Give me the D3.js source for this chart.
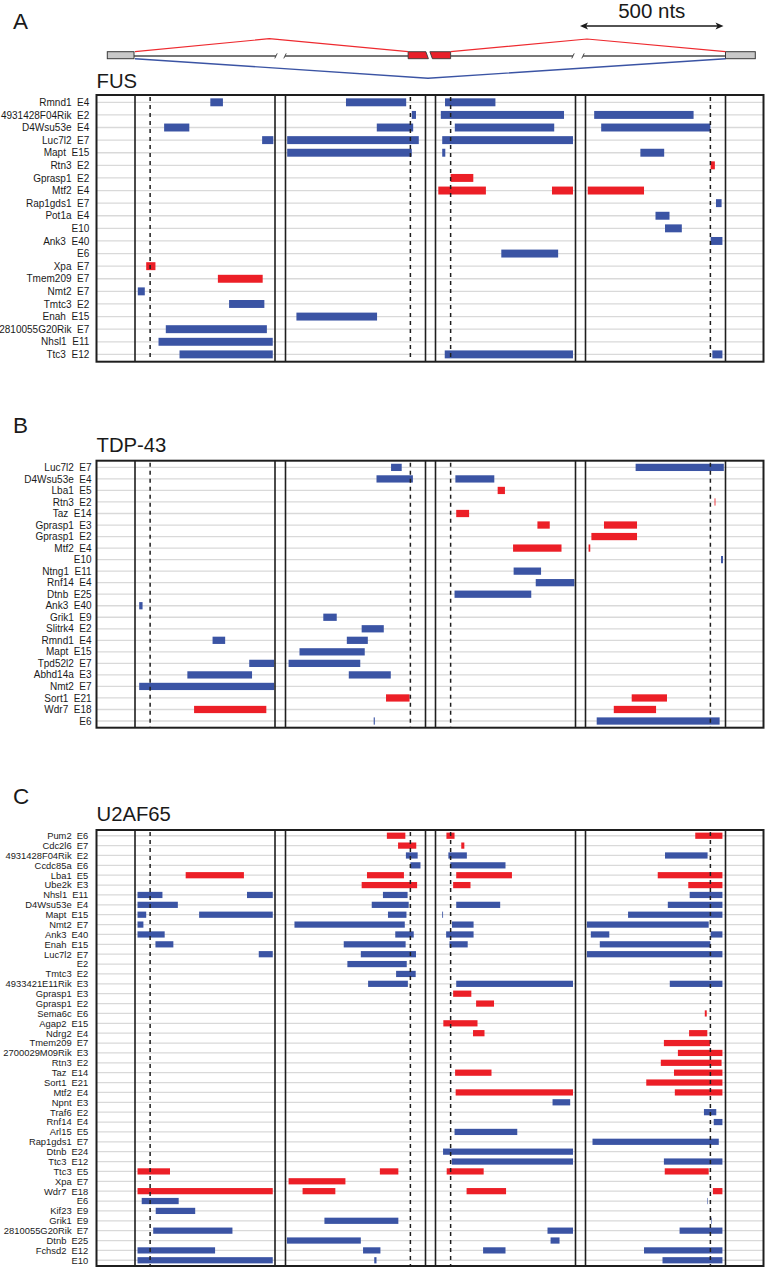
<!DOCTYPE html>
<html><head><meta charset="utf-8">
<script src="https://cdn.jsdelivr.net/npm/d3@7"></script>
<style>
html,body{margin:0;padding:0;background:#fff}
svg{display:block}
text{font-family:"Liberation Sans",Arial,Helvetica,sans-serif;fill:#1a1a1a}
</style>
</head><body><svg id="chart" width="766" height="1267"></svg>
<script>
// ---------- DATA ----------
// Positions are nucleotides relative to the splice site marked by the dashed line of each region.
const regionDomains = [[-54, 446], [-446, 54], [-54, 446], [-446, 54]];

const fusRows = ["Rmnd1  E4","4931428F04Rik  E2","D4Wsu53e  E4","Luc7l2  E7","Mapt  E15","Rtn3  E2","Gprasp1  E2","Mtf2  E4","Rap1gds1  E7","Pot1a  E4","E10","Ank3  E40","E6","Xpa  E7","Tmem209  E7","Nmt2  E7","Tmtc3  E2","Enah  E15","2810055G20Rik  E7","Nhsl1  E11","Ttc3  E12"];
// [row, region, from, to, kind]
const fusBars = [
 [0,1,215,260,"B"],[0,2,-230,-15,"B"],[0,3,-20,160,"B"],
 [1,2,5,20,"B"],[1,3,-35,405,"B"],[1,4,-415,-60,"B"],
 [2,1,50,140,"B"],[2,2,-120,10,"B"],[2,3,15,370,"B"],[2,4,-390,0,"B"],
 [3,1,400,440,"B"],[3,2,-440,30,"B"],[3,3,-30,437,"B"],
 [4,2,-440,5,"B"],[4,3,-30,-19,"B"],[4,4,-250,-165,"B"],
 [5,4,1,16,"R"],
 [6,3,0,81,"R"],
 [7,3,-44,126,"R"],[7,3,362,437,"R"],[7,4,-438,-237,"R"],
 [8,4,20,40,"B"],
 [9,4,-196,-146,"B"],
 [10,4,-162,-102,"B"],
 [11,4,1,43,"B"],
 [12,3,181,384,"B"],
 [13,1,-14,19,"R"],
 [14,1,242,402,"R"],
 [15,1,-44,-19,"B"],
 [16,1,282,408,"B"],
 [17,2,-407,-119,"B"],
 [18,1,56,417,"B"],
 [19,1,30,438,"B"],
 [20,1,105,438,"B"],[20,3,-21,437,"B"],[20,4,7,43,"B"]
];

const tdpRows = ["Luc7l2  E7","D4Wsu53e  E4","Lba1  E5","Rtn3  E2","Taz  E14","Gprasp1  E3","Gprasp1  E2","Mtf2  E4","E10","Ntng1  E11","Rnf14  E4","Dtnb  E25","Ank3  E40","Grik1  E9","Slitrk4  E2","Rmnd1  E4","Mapt  E15","Tpd52l2  E7","Abhd14a  E3","Nmt2  E7","Sort1  E21","Wdr7  E18","E6"];
const tdpBars = [
 [0,2,-69,-31,"B"],[0,4,-267,48,"B"],
 [1,2,-121,9,"B"],[1,3,17,156,"B"],
 [2,3,168,194,"R"],
 [3,4,15,18,"R"],
 [4,3,20,66,"R"],
 [5,3,310,354,"R"],[5,4,-380,-262,"R"],
 [6,4,-425,-262,"R"],
 [7,3,223,396,"R"],[7,4,-435,-429,"R"],
 [8,4,38,45,"B"],
 [9,3,225,323,"B"],
 [10,3,304,442,"B"],
 [11,3,14,288,"B"],
 [12,1,-39,-27,"B"],
 [13,2,-311,-263,"B"],
 [14,2,-174,-95,"B"],
 [15,1,223,268,"B"],[15,2,-227,-152,"B"],
 [16,2,-396,-163,"B"],
 [17,1,354,443,"B"],[17,2,-435,-179,"B"],
 [18,1,133,364,"B"],[18,2,-220,-70,"B"],
 [19,1,-39,443,"B"],
 [20,2,-87,-3,"R"],[20,4,-281,-155,"R"],
 [21,1,157,415,"R"],[21,4,-345,-194,"R"],
 [22,2,-131,-127,"B"],[22,4,-406,33,"B"]
];

const u2afRows = ["Pum2  E6","Cdc2l6  E7","4931428F04Rik  E2","Ccdc85a  E6","Lba1  E5","Ube2k  E3","Nhsl1  E11","D4Wsu53e  E4","Mapt  E15","Nmt2  E7","Ank3  E40","Enah  E15","Luc7l2  E7","E2","Tmtc3  E2","4933421E11Rik  E3","Gprasp1  E3","Gprasp1  E2","Sema6c  E6","Agap2  E15","Ndrg2  E4","Tmem209  E7","2700029M09Rik  E3","Rtn3  E2","Taz  E14","Sort1  E21","Mtf2  E4","Npnt  E3","Traf6  E2","Rnf14  E4","Arl15  E5","Rap1gds1  E7","Dtnb  E24","Ttc3  E12","Ttc3  E5","Xpa  E7","Wdr7  E18","E6","Kif23  E9","Grik1  E9","2810055G20Rik  E7","Dtnb  E25","Fchsd2  E12","E10"];
const u2afBars = [
 [0,2,-84,-18,"R"],[0,3,-15,14,"R"],[0,4,-54,43,"R"],
 [1,2,-44,21,"R"],[1,3,38,49,"R"],
 [2,2,-16,26,"B"],[2,3,-8,58,"B"],[2,4,-162,-10,"B"],
 [3,2,0,36,"B"],[3,3,-1,196,"B"],
 [4,1,127,335,"R"],[4,2,-155,-23,"R"],[4,3,20,219,"R"],[4,4,-188,43,"R"],
 [5,2,-174,24,"R"],[5,3,9,71,"R"],[5,4,-79,43,"R"],
 [6,1,-45,44,"B"],[6,1,346,438,"B"],[6,2,-98,-10,"B"],[6,4,-74,43,"B"],
 [7,1,-45,99,"B"],[7,2,-138,-6,"B"],[7,3,20,177,"B"],[7,4,-152,43,"B"],
 [8,1,-45,-14,"B"],[8,1,175,438,"B"],[8,2,-80,-14,"B"],[8,3,-30,-27,"B"],[8,4,-294,43,"B"],
 [9,1,-45,-24,"B"],[9,2,-414,-20,"B"],[9,3,5,82,"B"],[9,4,-441,-6,"B"],
 [10,1,-45,52,"B"],[10,2,-54,12,"B"],[10,3,-16,82,"B"],[10,4,-427,-361,"B"],[10,4,1,43,"B"],
 [11,1,19,83,"B"],[11,2,-238,-17,"B"],[11,3,-4,61,"B"],[11,4,-395,0,"B"],
 [12,1,388,438,"B"],[12,2,-177,20,"B"],[12,4,-441,43,"B"],
 [13,2,-225,-13,"B"],
 [14,2,-51,19,"B"],
 [15,2,-151,-9,"B"],[15,3,20,437,"B"],[15,4,-145,43,"B"],
 [16,3,9,74,"R"],
 [17,3,91,155,"R"],
 [18,4,-20,-13,"R"],
 [19,3,-26,96,"R"],
 [20,3,80,121,"R"],[20,4,-76,-11,"R"],
 [21,4,-166,-1,"R"],
 [22,4,-116,43,"R"],
 [23,4,-177,40,"R"],
 [24,3,16,146,"R"],[24,4,-130,43,"R"],
 [25,4,-229,43,"R"],
 [26,3,18,437,"R"],[26,4,-127,43,"R"],
 [27,3,364,427,"B"],
 [28,4,-23,21,"B"],
 [29,4,12,43,"B"],
 [30,3,14,238,"B"],
 [31,4,-421,30,"B"],
 [32,3,-27,437,"B"],
 [33,3,4,437,"B"],[33,4,-166,43,"B"],
 [34,1,-45,71,"R"],[34,2,-109,-43,"R"],[34,3,-14,118,"R"],[34,4,-163,-6,"R"],
 [35,2,-435,-232,"R"],
 [36,1,-45,438,"R"],[36,2,-385,-268,"R"],[36,3,57,198,"R"],[36,4,9,43,"R"],
 [37,1,-30,102,"B"],[37,4,-12,-10,"B"],
 [38,1,20,161,"B"],
 [39,2,-307,-43,"B"],[39,4,3,5,"B"],
 [40,1,11,294,"B"],[40,3,346,437,"B"],[40,4,-110,43,"B"],
 [41,2,-441,-177,"B"],[41,3,357,389,"B"],
 [42,1,-45,232,"B"],[42,2,-169,-107,"B"],[42,3,116,196,"B"],[42,4,-237,43,"B"],
 [43,1,-45,438,"B"],[43,2,-129,-121,"B"],[43,4,-171,43,"B"]
];

const panelLetters = ["A", "B", "C"];
const panelTitles = ["FUS", "TDP-43", "U2AF65"];
const scaleBarLabel = "500 nts";
const scaleBarNt = 500;

// ---------- LAYOUT ----------
const svg = d3.select("#chart");
const boxLeft = 96.5, boxRight = 763.5;
const regionLeft = [135, 285.5, 435.5, 585.5];
const regionWidth = 140;
const xScales = regionDomains.map((d, i) =>
  d3.scaleLinear().domain(d).range([regionLeft[i], regionLeft[i] + regionWidth]));
const color = d3.scaleOrdinal().domain(["B", "R"]).range(["#3b54a4", "#ec1f27"]);

const layout = [
  {letterY: 29.3, titleY: 88.3, top: 95, bottom: 361.7, labelX: 89.3, labelSize: 10},
  {letterY: 433.3, titleY: 452.3, top: 460.7, bottom: 727.7, labelX: 91.6, labelSize: 10},
  {letterY: 804.3, titleY: 820.7, top: 830, bottom: 1266, labelX: 88.3, labelSize: 9.4}
];
const panelRows = [fusRows, tdpRows, u2afRows];
const panelBars = [fusBars, tdpBars, u2afBars];

// ---------- SCHEMATIC ----------
(function schematic() {
  const g = svg.append("g");
  const yc = 55.2, eh = 7;
  const top = yc - eh / 2, bot = yc + eh / 2;
  const leftExon = [107.3, regionLeft[0] - 1];
  const rightExon = [regionLeft[3] + regionWidth, 755.3];
  const altExon = [xScales[1](-8), xScales[2](0)];
  const breaks = [[regionLeft[0] + regionWidth + 1, regionLeft[1] - 0.5],
                  [regionLeft[2] + regionWidth - 2.5, regionLeft[3] - 2.5]];
  const segs = [[leftExon[1], breaks[0][0]], [breaks[0][1], altExon[0]],
                [altExon[1], breaks[1][0]], [breaks[1][1], rightExon[0]]];
  g.selectAll("line.intron").data(segs).join("line")
    .attr("x1", d => d[0]).attr("x2", d => d[1]).attr("y1", yc + 0.8).attr("y2", yc + 0.8)
    .attr("stroke", "#4a4a4a").attr("stroke-width", 1.4);
  breaks.forEach(b => {
    [b[0], b[1]].forEach(x => {
      g.append("line").attr("x1", x - 1.2).attr("x2", x + 1.2)
        .attr("y1", yc + 3.2).attr("y2", yc - 1.8)
        .attr("stroke", "#4a4a4a").attr("stroke-width", 1);
    });
  });
  [leftExon, rightExon].forEach(e => {
    g.append("rect").attr("x", e[0]).attr("y", top).attr("width", e[1] - e[0]).attr("height", eh)
      .attr("fill", "#c9c9c9").attr("stroke", "#3a3a3a").attr("stroke-width", 1);
  });
  const mid = (altExon[0] + altExon[1]) / 2 - 2;
  const p1 = [[altExon[0], top], [mid - 1.5, top], [mid + 1, bot], [altExon[0], bot]];
  const p2 = [[mid + 2.5, top], [altExon[1], top], [altExon[1], bot], [mid + 5, bot]];
  [p1, p2].forEach(p => {
    g.append("polygon").attr("points", p.map(q => q.join(",")).join(" "))
      .attr("fill", "#e8202a").attr("stroke", "#3a3a3a").attr("stroke-width", 0.9);
  });
  const redPaths = [
    [[leftExon[1] + 1, top], [269.3, 38.7], [altExon[0], top]],
    [[altExon[1], top], [587, 39], [rightExon[0], top]]
  ];
  g.selectAll("path.red").data(redPaths).join("path")
    .attr("d", d3.line()).attr("fill", "none").attr("stroke", "#ee2a2f").attr("stroke-width", 1.2);
  g.append("path")
    .attr("d", d3.line()([[leftExon[1] + 1, bot], [428, 78.3], [rightExon[0], bot]]))
    .attr("fill", "none").attr("stroke", "#3b54a4").attr("stroke-width", 1.4);
  const ntPx = regionWidth / 500;
  const ax0 = 580, ax1 = ax0 + scaleBarNt * ntPx + 3.5, ay = 26;
  g.append("line").attr("x1", ax0 + 3).attr("x2", ax1 - 3).attr("y1", ay).attr("y2", ay)
    .attr("stroke", "#1a1a1a").attr("stroke-width", 1.4);
  g.append("polygon").attr("points", `${ax0},${ay} ${ax0+8},${ay-3.6} ${ax0+6},${ay} ${ax0+8},${ay+3.6}`).attr("fill", "#1a1a1a");
  g.append("polygon").attr("points", `${ax1},${ay} ${ax1-8},${ay-3.6} ${ax1-6},${ay} ${ax1-8},${ay+3.6}`).attr("fill", "#1a1a1a");
  g.append("text").attr("x", (ax0 + ax1) / 2).attr("y", 18.3).attr("text-anchor", "middle")
    .attr("font-size", 20.5).text(scaleBarLabel);
})();

// ---------- PANELS ----------
panelRows.forEach((rows, pi) => {
  const L = layout[pi];
  const g = svg.append("g");
  const y = d3.scalePoint().domain(d3.range(rows.length)).range([L.top, L.bottom]).padding(0.58);
  const bh = y.step() * 0.63;

  g.append("text").attr("x", 13).attr("y", L.letterY).attr("font-size", 22.5).text(panelLetters[pi]);
  g.append("text").attr("x", 96.5).attr("y", L.titleY).attr("font-size", 20.3).text(panelTitles[pi]);

  g.selectAll("line.grid").data(d3.range(rows.length)).join("line")
    .attr("x1", boxLeft).attr("x2", boxRight)
    .attr("y1", d => y(d)).attr("y2", d => y(d))
    .attr("stroke", "#d9d9d9").attr("stroke-width", 1.3);

  g.selectAll("text.lab").data(rows).join("text")
    .attr("x", L.labelX).attr("y", (d, i) => y(i)).attr("dy", "0.36em")
    .attr("text-anchor", "end").attr("font-size", L.labelSize)
    .style("white-space", "pre").attr("xml:space", "preserve")
    .text(d => d);

  g.selectAll("rect.bar").data(panelBars[pi]).join("rect")
    .attr("x", d => xScales[d[1] - 1](d[2]))
    .attr("width", d => Math.max(0.4, xScales[d[1] - 1](d[3]) - xScales[d[1] - 1](d[2])))
    .attr("y", d => y(d[0]) - bh / 2).attr("height", bh)
    .attr("fill", d => color(d[4]));

  regionLeft.forEach((x0, i) => {
    [x0, x0 + regionWidth].forEach(x => {
      g.append("line").attr("x1", x).attr("x2", x).attr("y1", L.top).attr("y2", L.bottom)
        .attr("stroke", "#1e1e1e").attr("stroke-width", 1.6);
    });
    const xs = xScales[i](0);
    g.append("line").attr("x1", xs).attr("x2", xs).attr("y1", L.top + 2).attr("y2", L.bottom)
      .attr("stroke", "#1e1e1e").attr("stroke-width", 1.5).attr("stroke-dasharray", "4,4");
  });

  g.append("rect").attr("x", boxLeft).attr("y", L.top).attr("width", boxRight - boxLeft)
    .attr("height", L.bottom - L.top).attr("fill", "none")
    .attr("stroke", "#1e1e1e").attr("stroke-width", 2);
});
</script></body></html>
